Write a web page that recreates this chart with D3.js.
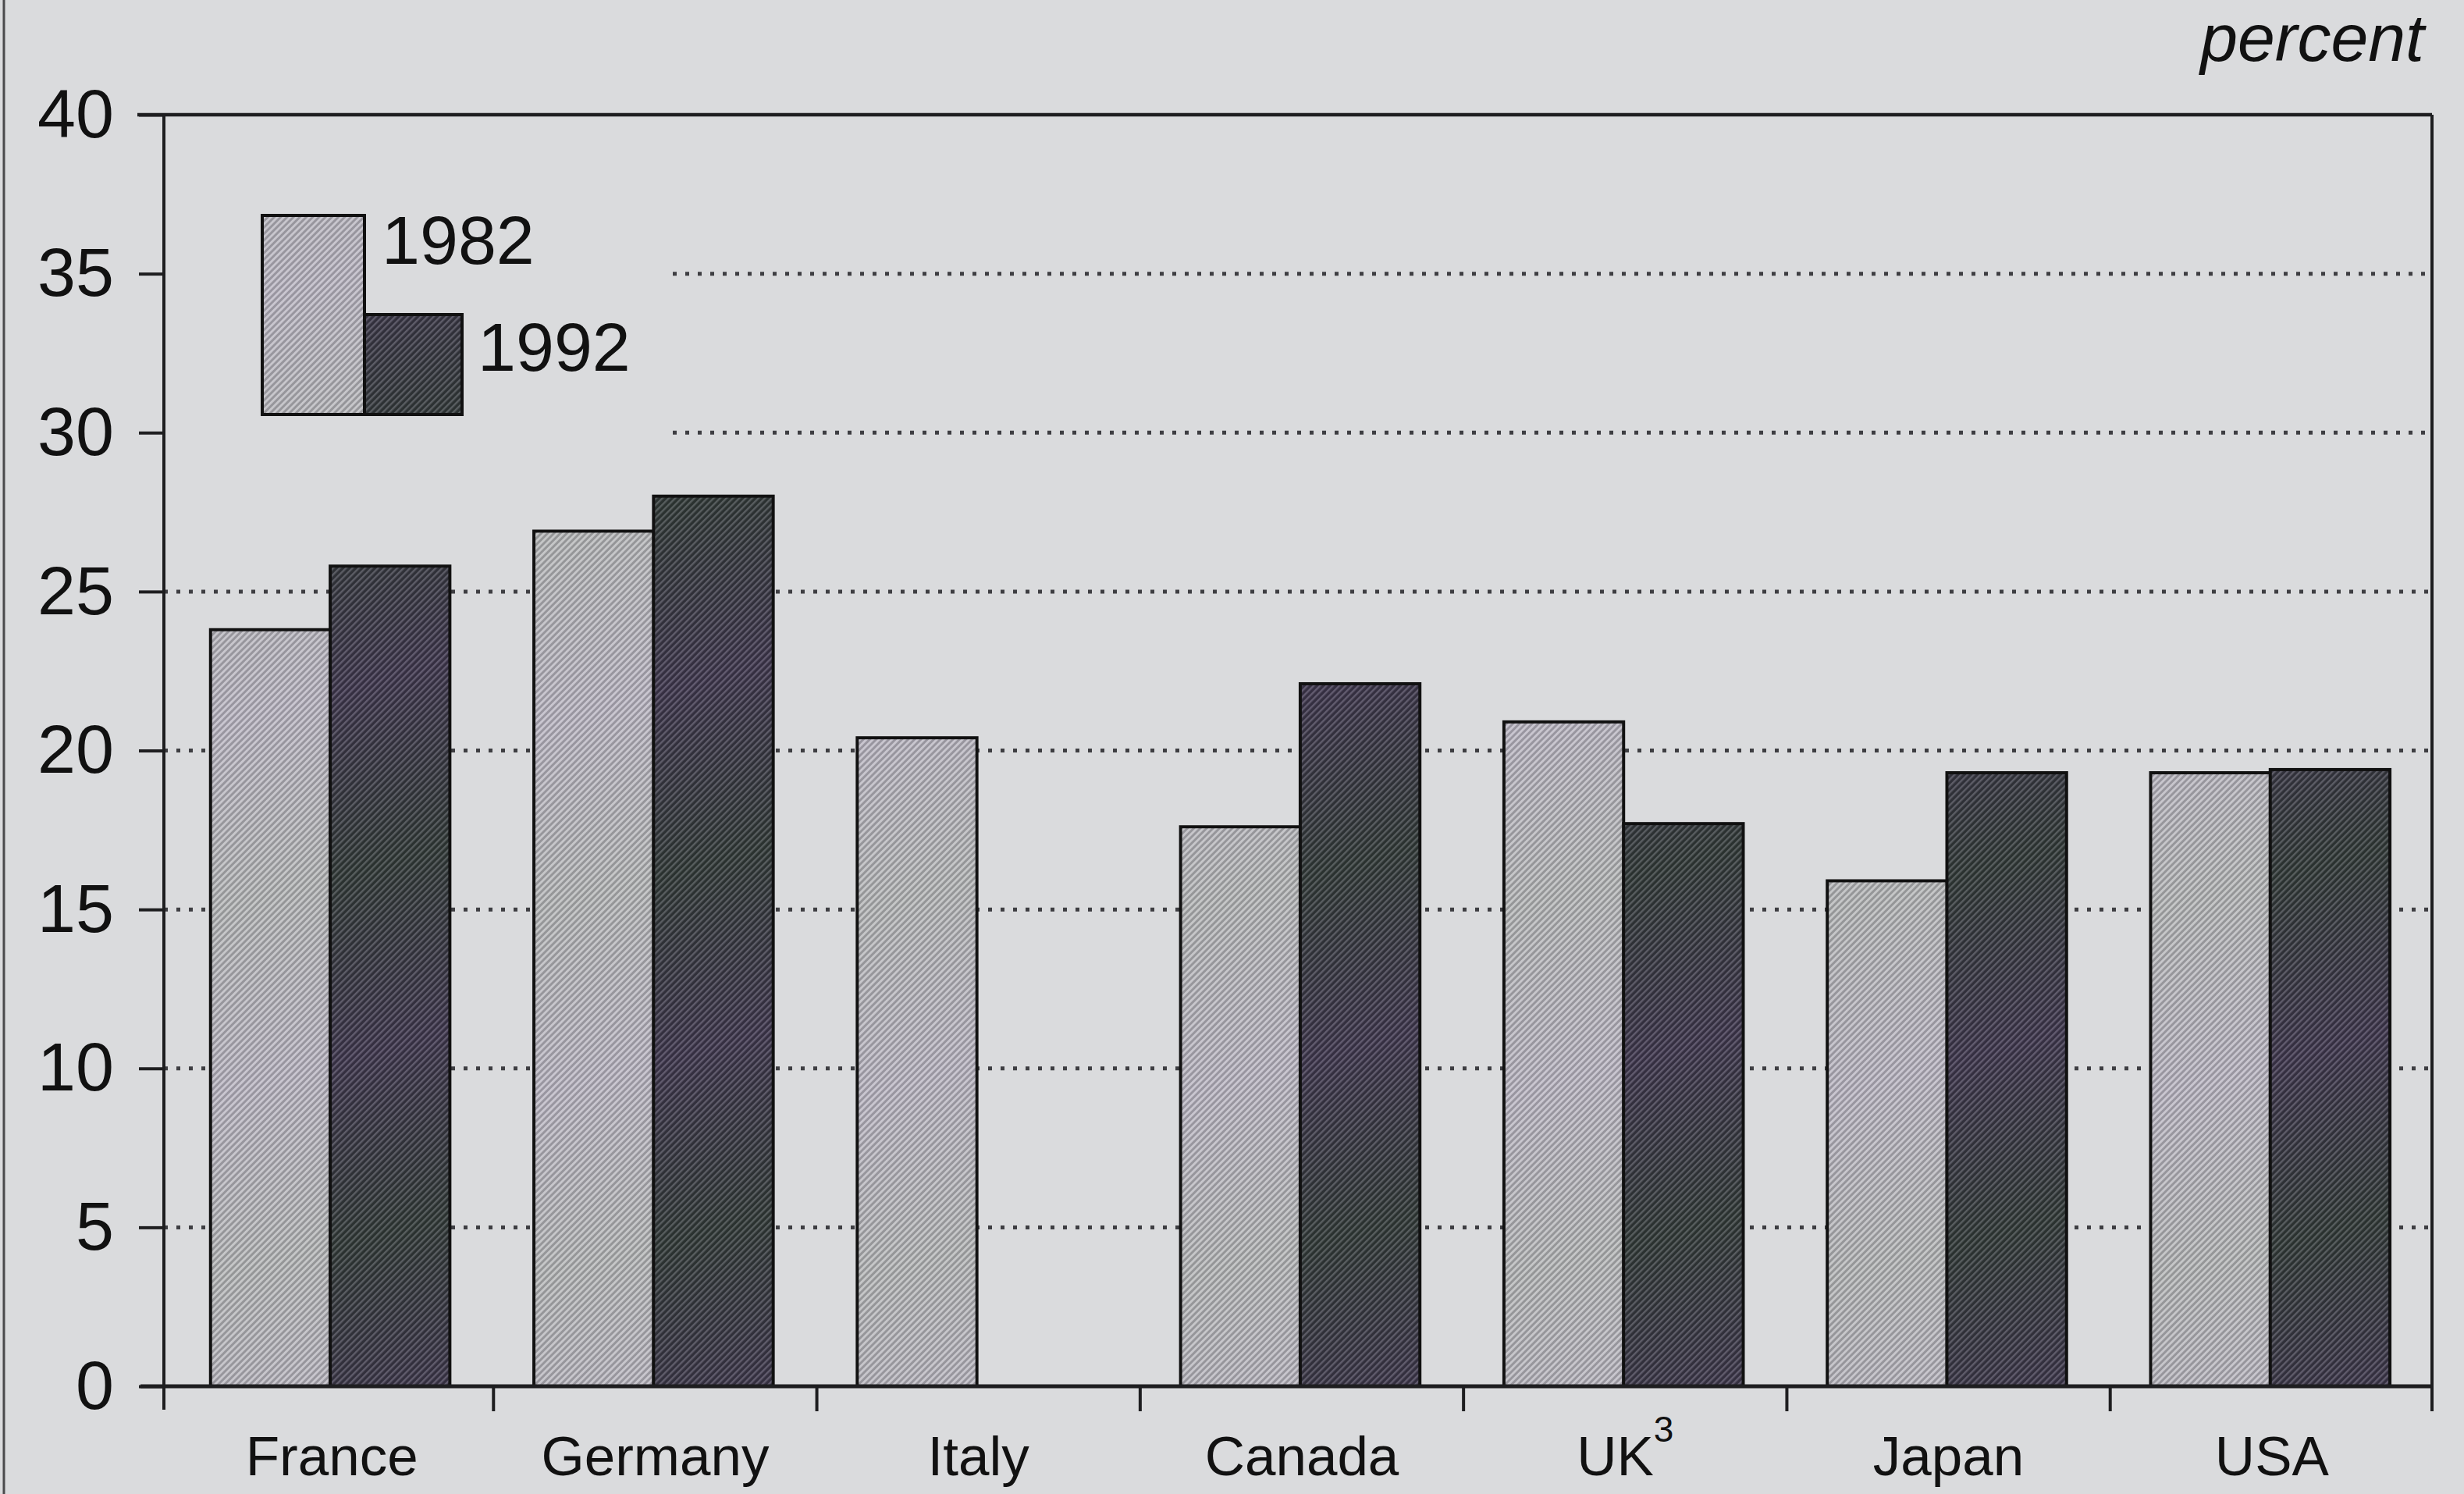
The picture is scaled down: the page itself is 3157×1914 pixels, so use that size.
<!DOCTYPE html>
<html>
<head>
<meta charset="utf-8">
<script src="https://cdn.jsdelivr.net/npm/d3@7"></script>
<style>
  html, body { margin: 0; padding: 0; background: #dadbdd; }
  svg { display: block; }
  text { font-family: "Liberation Sans", Arial, Helvetica, sans-serif; fill: #111; }
</style>
</head>
<body>
<script>
// Share of output, two survey years, by country
const categories = ["France", "Germany", "Italy", "Canada", "UK", "Japan", "USA"];
const seriesNames = ["1982", "1992"];
const values1982 = [23.8, 26.9, 20.4, 17.6, 20.9, 15.9, 19.3];
const values1992 = [25.8, 28.0, null, 22.1, 17.7, 19.3, 19.4];
const yTicks = [0, 5, 10, 15, 20, 25, 30, 35, 40];
const unitLabel = "percent";

const W = 3157, H = 1914;
const plotLeft = 210, plotRight = 3116, plotTop = 147, plotBottom = 1776;

const svg = d3.select("body").append("svg")
  .attr("width", W).attr("height", H);

svg.append("rect").attr("width", W).attr("height", H).attr("fill", "#dadbdd");

// paper edge on the far left
svg.append("line").attr("x1", 5).attr("x2", 5).attr("y1", 0).attr("y2", H)
  .attr("stroke", "#4a4a4c").attr("stroke-width", 3);

const defs = svg.append("defs");

// diagonal hatching plus a faint colour wash for each series
function hatch(id, base, line, lineW, tintA, tintB) {
  const p = defs.append("pattern")
    .attr("id", id)
    .attr("patternUnits", "userSpaceOnUse")
    .attr("width", 5.8).attr("height", 5.8)
    .attr("patternTransform", "rotate(45)");
  p.append("rect").attr("width", 5.8).attr("height", 5.8).attr("fill", base);
  p.append("rect").attr("width", lineW).attr("height", 5.8).attr("fill", line);

  const g = defs.append("linearGradient")
    .attr("id", id + "-tint")
    .attr("gradientUnits", "userSpaceOnUse")
    .attr("x1", 0).attr("y1", 0).attr("x2", 60).attr("y2", 220)
    .attr("spreadMethod", "reflect");
  g.append("stop").attr("offset", "0%").attr("stop-color", tintA);
  g.append("stop").attr("offset", "100%").attr("stop-color", tintB);
}
hatch("h1982", "#8c8b91", "#d2d1d6", 2.8, "#b7aec4", "#a9b0a6");
hatch("h1992", "#25242a", "#66646d", 2.4, "#5b4878", "#35503a");

const fills = { "1982": "url(#h1982)", "1992": "url(#h1992)" };
const tints = { "1982": "url(#h1982-tint)", "1992": "url(#h1992-tint)" };

const x0 = d3.scaleBand().domain(categories).range([plotLeft + 8, plotRight + 2]);
const step = x0.step();
const x1 = d3.scaleBand().domain(seriesNames)
  .range([step * 0.125, step * 0.865]);
const y = d3.scaleLinear().domain([0, 40]).range([plotBottom, plotTop]);

// dotted gridlines; the upper two stop short of the legend
const legendClearX = 862;
svg.append("g").selectAll("line")
  .data(yTicks.filter(t => t > 0 && t < 40))
  .join("line")
  .attr("x1", d => d >= 30 ? legendClearX : plotLeft)
  .attr("x2", plotRight)
  .attr("y1", d => y(d)).attr("y2", d => y(d))
  .attr("stroke", "#3e3e42")
  .attr("stroke-width", 5)
  .attr("stroke-dasharray", "5,11");

// bars
const rows = categories.map((c, i) => ({
  country: c,
  vals: [
    { s: "1982", v: values1982[i] },
    { s: "1992", v: values1992[i] }
  ].filter(d => d.v != null)
}));

const groups = svg.append("g").selectAll("g")
  .data(rows).join("g")
  .attr("transform", d => `translate(${x0(d.country)},0)`);

groups.selectAll("rect.bar")
  .data(d => d.vals).join("rect")
  .attr("class", "bar")
  .attr("x", d => x1(d.s))
  .attr("width", x1.bandwidth())
  .attr("y", d => y(d.v))
  .attr("height", d => y(0) - y(d.v))
  .attr("fill", d => fills[d.s])
  .attr("stroke", "#111")
  .attr("stroke-width", 4);

groups.selectAll("rect.tint")
  .data(d => d.vals).join("rect")
  .attr("class", "tint")
  .attr("x", d => x1(d.s) + 2)
  .attr("width", x1.bandwidth() - 4)
  .attr("y", d => y(d.v) + 2)
  .attr("height", d => y(0) - y(d.v) - 4)
  .attr("fill", d => tints[d.s])
  .attr("opacity", 0.3);

// frame: top rule, right rule
const axisColor = "#1e1e20";
svg.append("line").attr("x1", 176).attr("x2", plotRight).attr("y1", plotTop).attr("y2", plotTop)
  .attr("stroke", axisColor).attr("stroke-width", 4.5);
svg.append("line").attr("x1", plotRight).attr("x2", plotRight).attr("y1", plotTop).attr("y2", plotBottom + 32)
  .attr("stroke", axisColor).attr("stroke-width", 4);

// y axis
const yAxis = svg.append("g")
  .attr("transform", `translate(${plotLeft},0)`)
  .call(d3.axisLeft(y).tickValues(yTicks).tickSize(32).tickPadding(32));
yAxis.select(".domain").remove();
yAxis.selectAll(".tick line").attr("stroke", axisColor).attr("stroke-width", 4);
yAxis.selectAll(".tick text")
  .attr("font-size", 88)
  .attr("font-family", "Liberation Sans, Arial, sans-serif")
  .attr("fill", "#111");
svg.append("line").attr("x1", plotLeft).attr("x2", plotLeft).attr("y1", plotTop).attr("y2", plotBottom + 30)
  .attr("stroke", axisColor).attr("stroke-width", 4);

// x axis
svg.append("line").attr("x1", 180).attr("x2", plotRight).attr("y1", plotBottom).attr("y2", plotBottom)
  .attr("stroke", axisColor).attr("stroke-width", 5);
const xAxis = svg.append("g")
  .attr("transform", `translate(0,${plotBottom})`)
  .call(d3.axisBottom(x0).tickSize(0).tickPadding(64));
xAxis.select(".domain").remove();
xAxis.selectAll(".tick text")
  .attr("font-size", 71)
  .attr("font-family", "Liberation Sans, Arial, sans-serif")
  .attr("fill", "#111")
  .each(function (d) {
    if (d === "UK") {
      const t = d3.select(this);
      t.text("UK");
      t.append("tspan").attr("font-size", 46).attr("dy", "-0.95em").text("3");
    }
  });
// separators between country groups (outer edges are the frame lines)
svg.append("g").selectAll("line")
  .data(categories.slice(1).map(c => x0(c)))
  .join("line")
  .attr("x1", d => d).attr("x2", d => d)
  .attr("y1", plotBottom).attr("y2", plotBottom + 32)
  .attr("stroke", axisColor).attr("stroke-width", 4);

// unit label
svg.append("text")
  .attr("x", 3106).attr("y", 78)
  .attr("text-anchor", "end")
  .attr("font-size", 86)
  .attr("font-style", "italic")
  .text(unitLabel);

// legend
const legend = [
  { s: "1982", x: 336, y: 276, w: 131, h: 255, tx: 489, ty: 338 },
  { s: "1992", x: 467, y: 403, w: 125, h: 128, tx: 612, ty: 475 }
];
const lg = svg.append("g");
lg.selectAll("rect.sw").data(legend).join("rect")
  .attr("class", "sw")
  .attr("x", d => d.x).attr("y", d => d.y)
  .attr("width", d => d.w).attr("height", d => d.h)
  .attr("fill", d => fills[d.s])
  .attr("stroke", "#111").attr("stroke-width", 4);
lg.selectAll("rect.tn").data(legend).join("rect")
  .attr("class", "tn")
  .attr("x", d => d.x + 2).attr("y", d => d.y + 2)
  .attr("width", d => d.w - 4).attr("height", d => d.h - 4)
  .attr("fill", d => tints[d.s]).attr("opacity", 0.3);
lg.selectAll("text").data(legend).join("text")
  .attr("x", d => d.tx).attr("y", d => d.ty)
  .attr("font-size", 88)
  .text(d => d.s);
</script>
</body>
</html>
